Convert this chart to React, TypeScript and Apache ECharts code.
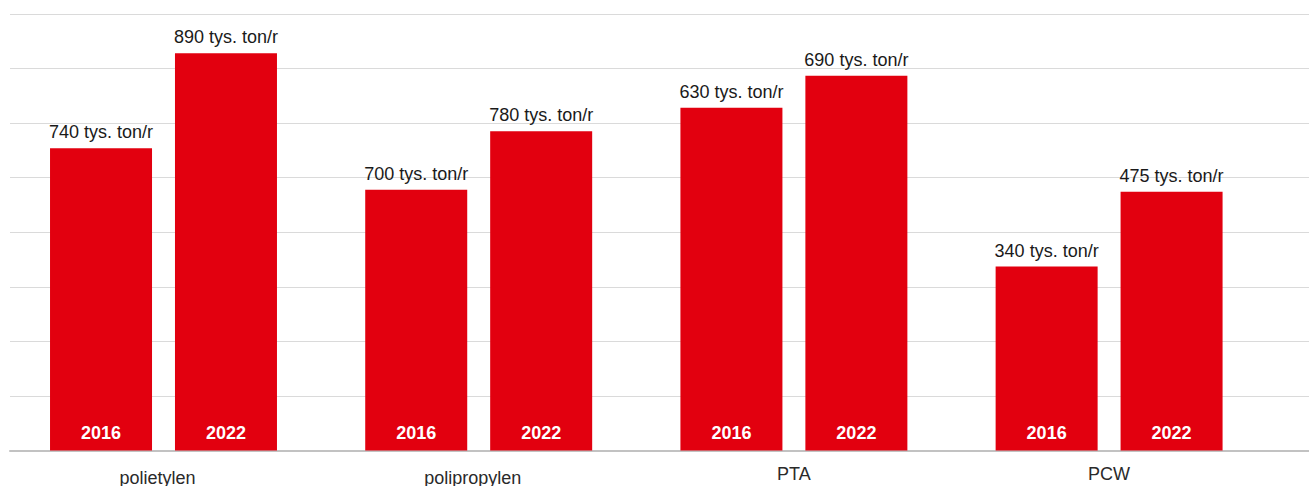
import React, { useEffect, useRef } from "react";
import * as echarts from "echarts";

const categories = ["polietylen", "polipropylen", "PTA", "PCW"];
const seriesNames = ["2016", "2022"];
const values2016 = [554, 478, 628, 337];
const values2022 = [728, 585, 687, 474];
const labels2016 = ["740 tys. ton/r", "700 tys. ton/r", "630 tys. ton/r", "340 tys. ton/r"];
const labels2022 = ["890 tys. ton/r", "780 tys. ton/r", "690 tys. ton/r", "475 tys. ton/r"];
const yMax = 800;
const yStep = 100;

const FONT = "'Liberation Sans', Arial, sans-serif";
const RED = "#e2000f";
const BAR_W = 102;
const BAR_GAP = "22.5%";

export default function App() {
  const ref = useRef<HTMLDivElement>(null);

  useEffect(() => {
    document.body.style.margin = "0";
    if (!ref.current) return;
    const chart = echarts.init(ref.current, null, { renderer: "svg" });

    const mainSeries = (name: string, data: number[], labels: string[]) => ({
      name,
      type: "bar",
      xAxisIndex: 1,
      yAxisIndex: 1,
      data,
      barWidth: BAR_W,
      barGap: BAR_GAP,
      itemStyle: { color: RED },
      label: {
        show: true,
        position: "top",
        distance: 7,
        fontFamily: FONT,
        fontSize: 18,
        color: "#1a1a1a",
        formatter: (p: any) => labels[p.dataIndex],
      },
    });

    const yearSeries = (name: string, data: number[]) => ({
      name: name + " year",
      type: "bar",
      xAxisIndex: 2,
      yAxisIndex: 1,
      data,
      barWidth: BAR_W,
      barGap: BAR_GAP,
      z: 3,
      silent: true,
      itemStyle: { color: "rgba(0,0,0,0)" },
      label: {
        show: true,
        position: "insideBottom",
        distance: 9,
        fontFamily: FONT,
        fontSize: 18,
        fontWeight: "bold",
        color: "#ffffff",
        formatter: () => name,
      },
    });

    const hiddenCat = {
      gridIndex: 1,
      type: "category",
      data: categories,
      axisLine: { show: false },
      axisTick: { show: false },
      axisLabel: { show: false },
      splitLine: { show: false },
    };

    const option = {
      animation: false,
      grid: [
        { left: 10, right: 0, top: 14, height: 436.5, containLabel: false, outerBoundsMode: "none" },
        { left: 5.9, right: 42.3, top: 14, height: 436.5, containLabel: false, outerBoundsMode: "none" },
      ],
      xAxis: [
        {
          gridIndex: 0,
          type: "category",
          data: [""],
          axisLine: { show: true, lineStyle: { color: "#c2c2c2", width: 2 } },
          axisTick: { show: false },
          axisLabel: { show: false },
          splitLine: { show: false },
        },
        {
          gridIndex: 1,
          type: "category",
          data: categories.map((c, i) =>
            i < 2 ? { value: c, textStyle: { padding: [4, 12, 0, 0] } } : { value: c }
          ),
          axisLine: { show: false },
          axisTick: { show: false },
          axisLabel: {
            margin: 14,
            fontFamily: FONT,
            fontSize: 18,
            color: "#2a2a2a",
          },
        },
        hiddenCat,
      ],
      yAxis: [
        {
          gridIndex: 0,
          type: "value",
          min: 0,
          max: yMax,
          interval: yStep,
          axisLine: { show: false },
          axisTick: { show: false },
          axisLabel: { show: false },
          splitLine: { show: true, lineStyle: { color: "#dadada", width: 1 } },
        },
        {
          gridIndex: 1,
          type: "value",
          min: 0,
          max: yMax,
          interval: yStep,
          axisLine: { show: false },
          axisTick: { show: false },
          axisLabel: { show: false },
          splitLine: { show: false },
        },
      ],
      series: [
        mainSeries(seriesNames[0], values2016, labels2016),
        mainSeries(seriesNames[1], values2022, labels2022),
        yearSeries(seriesNames[0], values2016),
        yearSeries(seriesNames[1], values2022),
      ],
    };

    chart.setOption(option as any);
    return () => chart.dispose();
  }, []);

  return <div ref={ref} style={{ width: 1309, height: 486 }} />;
}
